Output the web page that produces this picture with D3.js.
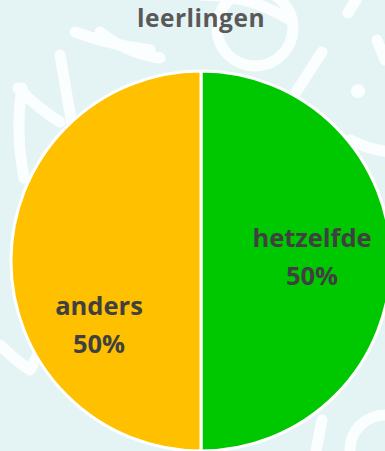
<!DOCTYPE html>
<html>
<head>
<meta charset="utf-8">
<script src="https://cdn.jsdelivr.net/npm/d3@7"></script>
<style>
  html, body { margin: 0; padding: 0; background: #e4f3f3; overflow: hidden; }
  svg { display: block; }
</style>
</head>
<body>
<svg id="chart" width="385" height="451"></svg>
<script>
// Answers given by pupils
const categories = ["hetzelfde", "anders"];
const values = [50, 50];
const sliceColors = ["#00c800", "#ffc000"];
const title = "leerlingen";

const width = 385, height = 451;
const svg = d3.select("#chart");

svg.append("rect").attr("width", width).attr("height", height).attr("fill", "#e4f3f3");

// Soft chalk-like doodles in the backdrop
const doodles = [
  "M22,88 Q15,130 24,178",
  "M18,88 Q40,110 60,122",
  "M60,55 Q66,90 72,125",
  "M75,32 Q110,45 150,50",
  "M100,32 Q130,55 160,58",
  "M322,52 L296,92",
  "M348,13 L356,0",
  "M350,140 Q370,150 390,152",
  "M0,345 Q15,360 30,370 L40,350",
  "M322,420 L316,451",
  "M200,-5 Q250,-5 290,20",
  "M377,40 L385,60"
];
svg.append("g").selectAll("path").data(doodles).join("path")
  .attr("d", d => d)
  .attr("fill", "none")
  .attr("stroke", "#fbfefe")
  .attr("stroke-width", 11)
  .attr("stroke-linecap", "round")
  .attr("stroke-linejoin", "round");
svg.append("circle").attr("cx", 255).attr("cy", 28).attr("r", 38)
  .attr("fill", "none").attr("stroke", "#fbfefe").attr("stroke-width", 11);
svg.append("circle").attr("cx", 358).attr("cy", 91).attr("r", 7).attr("fill", "#fbfefe");
svg.append("circle").attr("cx", 385).attr("cy", 450).attr("r", 35)
  .attr("fill", "none").attr("stroke", "#fbfefe").attr("stroke-width", 11);

const font = "'Open Sans', Lato, sans-serif";

// Title
svg.append("text")
  .attr("x", 201).attr("y", 27)
  .attr("text-anchor", "middle")
  .attr("font-family", font)
  .attr("font-weight", "bold")
  .attr("font-size", 24.5)
  .attr("letter-spacing", 0.5)
  .attr("fill", "#595959")
  .text(title);

// Pie
const cx = 201, cy = 261, r = 190;
const data = categories.map((c, i) => ({ name: c, value: values[i], color: sliceColors[i] }));
const pie = d3.pie().value(d => d.value).sort(null);
const arc = d3.arc().innerRadius(0).outerRadius(r);

const g = svg.append("g").attr("transform", `translate(${cx},${cy})`);
const arcs = pie(data);

g.selectAll("path.slice").data(arcs).join("path")
  .attr("class", "slice")
  .attr("d", arc)
  .attr("fill", d => d.data.color)
  .attr("stroke", "#ffffff")
  .attr("stroke-width", 3)
  .attr("stroke-linejoin", "round");

// Slice labels
const labelPos = [[111, -14], [-102, 54]];
const labels = g.selectAll("text.lbl").data(arcs).join("text")
  .attr("class", "lbl")
  .attr("text-anchor", "middle")
  .attr("font-family", font)
  .attr("font-weight", "bold")
  .attr("font-size", 25.5)
  .attr("fill", "#404040")
  .attr("transform", (d, i) => `translate(${labelPos[i][0]},${labelPos[i][1]})`);
labels.append("tspan").attr("x", 0).attr("y", 0).text(d => d.data.name);
labels.append("tspan").attr("x", 0).attr("y", 38)
  .text(d => Math.round(d.value / d3.sum(values) * 100) + "%");
</script>
</body>
</html>
